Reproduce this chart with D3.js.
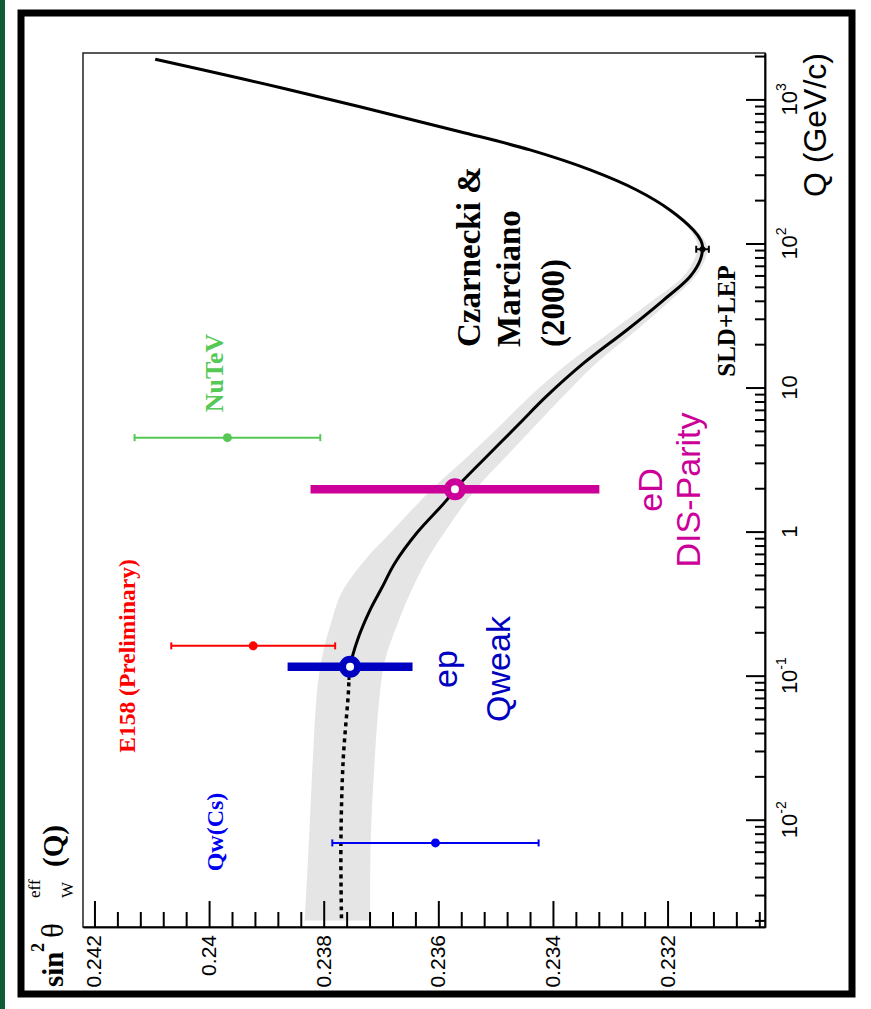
<!DOCTYPE html>
<html><head><meta charset="utf-8">
<script src="https://cdnjs.cloudflare.com/ajax/libs/d3/7.8.5/d3.min.js"></script>
<style>
html,body{margin:0;padding:0;background:#fff;}
svg{display:block;}
</style></head><body>
<svg id="chart" width="871" height="1009"></svg>
<script>
// ---------- data ----------
const curveQ = [0.00207, 0.00693, 0.026, 0.0754, 0.0933, 0.1154, 0.177, 0.286, 0.404, 0.603, 0.973, 1.66, 1.97, 3.31, 5.65, 8.64, 14.7, 25.1, 40.5, 58.8, 76.8, 95.0, 105, 124, 171, 235, 324, 446, 597, 1195, 1900];
const curveS = [0.23769, 0.23770, 0.23766, 0.23757, 0.23756, 0.23754, 0.23741, 0.23719, 0.23699, 0.23676, 0.23638, 0.23585, 0.23571, 0.23516, 0.23458, 0.23412, 0.23347, 0.23271, 0.23207, 0.23161, 0.23143, 0.23139, 0.23142, 0.23155, 0.23196, 0.23254, 0.23335, 0.23440, 0.23562, 0.23871, 0.24094];
const dottedBelowQ = 0.0933;

const bandQ     = [0.002, 0.0069, 0.026, 0.075, 0.128, 0.219, 0.375, 0.635, 0.978, 2.01, 3.31, 5.65, 8.64, 14.7, 25.1, 40.5, 58.8, 76.8, 95.0, 124, 171];
const bandUpper = [0.23833, 0.23826, 0.23819, 0.23812, 0.23804, 0.23789, 0.23769, 0.23728, 0.23684, 0.23609, 0.23549, 0.23488, 0.23441, 0.23374, 0.23295, 0.23225, 0.23173, 0.23154, 0.23147, 0.23161, 0.23196];
const bandLower = [0.23719, 0.23718, 0.23711, 0.23702, 0.23693, 0.23673, 0.23649, 0.23620, 0.23590, 0.23533, 0.23482, 0.23427, 0.23383, 0.23325, 0.23254, 0.23194, 0.23152, 0.23135, 0.23131, 0.23150, 0.23196];

const thinNames  = ["Qw(Cs)", "E158 (Preliminary)", "NuTeV", "SLD+LEP"];
const thinQ      = [0.0069, 0.161, 4.49, 91.19];
const thinS      = [0.23605, 0.23923, 0.23968, 0.23139];
const thinErr    = [0.0018, 0.00143, 0.00162, 0.00011];
const thinColors = ["#0000f0", "#ff0000", "#55c855", "#000000"];

const bigNames   = ["ep Qweak", "eD DIS-Parity"];
const bigQ       = [0.1154, 1.966];
const bigS       = [0.23754, 0.23571];
const bigErr     = [0.00109, 0.00252];
const bigColors  = ["#0000c0", "#cc0099"];

const sinTicks      = [0.242, 0.240, 0.238, 0.236, 0.234, 0.232];
const sinTickLabels = ["0.242", "0.24", "0.238", "0.236", "0.234", "0.232"];
const qTicks        = [0.01, 0.1, 1, 10, 100, 1000];
const qTickBase     = ["10", "10", "1", "10", "10", "10"];
const qTickExp      = ["-2", "-1", "", "", "2", "3"];

// ---------- setup ----------
const svg = d3.select("#chart");
const serif = "'Liberation Serif','Times New Roman',serif";
const sans = "'Liberation Sans',Arial,Helvetica,sans-serif";

const L = 83, R = 765, T = 53, B = 927;
const x = d3.scaleLinear().domain([0.2422, 0.2303]).range([L, R]);
const y = d3.scaleLog().domain([0.0018, 2100]).range([B, T]);

// page decoration
svg.append("rect").attr("x", 0).attr("y", 0).attr("width", 5).attr("height", 1009).attr("fill", "#0d5c36");
svg.append("rect").attr("x", 21).attr("y", 13).attr("width", 831).attr("height", 981)
  .attr("fill", "none").attr("stroke", "#000").attr("stroke-width", 7);

// band
const bandData = bandQ.map((q, i) => ({q, hi: bandUpper[i], lo: bandLower[i]}));
svg.append("path").datum(bandData)
  .attr("d", d3.area().y(d => y(d.q)).x0(d => x(d.hi)).x1(d => x(d.lo)).curve(d3.curveCatmullRom))
  .attr("fill", "#e5e5e5");

// curve
const curveData = curveQ.map((q, i) => ({q, s: curveS[i]}));
const line = d3.line().x(d => x(d.s)).y(d => y(d.q)).curve(d3.curveCatmullRom);
svg.append("path").datum(curveData.filter(d => d.q <= dottedBelowQ))
  .attr("d", line).attr("fill", "none").attr("stroke", "#000")
  .attr("stroke-width", 3.5).attr("stroke-dasharray", "4,4");
svg.append("path").datum(curveData.filter(d => d.q >= dottedBelowQ))
  .attr("d", line).attr("fill", "none").attr("stroke", "#000").attr("stroke-width", 3);

// thin points with error bars
thinQ.forEach((q, i) => {
  const g = svg.append("g").attr("stroke", thinColors[i]).attr("fill", thinColors[i]);
  const yy = y(q), x1 = x(thinS[i] + thinErr[i]), x2 = x(thinS[i] - thinErr[i]);
  g.append("line").attr("x1", x1).attr("x2", x2).attr("y1", yy).attr("y2", yy).attr("stroke-width", 2);
  [x1, x2].forEach(xx => g.append("line").attr("x1", xx).attr("x2", xx).attr("y1", yy - 3.5).attr("y2", yy + 3.5).attr("stroke-width", 2));
  g.append("circle").attr("cx", x(thinS[i])).attr("cy", yy).attr("r", i === 3 ? 3 : 4.5).attr("stroke", "none");
});

// big points with thick error bars
bigQ.forEach((q, i) => {
  const yy = y(q);
  svg.append("line").attr("x1", x(bigS[i] + bigErr[i])).attr("x2", x(bigS[i] - bigErr[i]))
    .attr("y1", yy).attr("y2", yy).attr("stroke", bigColors[i]).attr("stroke-width", 8.5);
  svg.append("circle").attr("cx", x(bigS[i])).attr("cy", yy).attr("r", 7.5)
    .attr("fill", "#fff").attr("stroke", bigColors[i]).attr("stroke-width", 7);
});

// frame
svg.append("rect").attr("x", L).attr("y", T).attr("width", R - L).attr("height", B - T)
  .attr("fill", "none").attr("stroke", "#222").attr("stroke-width", 1.5);

// sin^2 axis (bottom of picture)
const sinMinor = d3.range(0, 30).map(i => +(0.2304 + i * 0.0004).toFixed(4))
  .filter(v => v < 0.2421 && !sinTicks.some(t => Math.abs(t - v) < 1e-6));
const axS1 = svg.append("g").attr("transform", `translate(0,${B})`)
  .call(d3.axisBottom(x).tickValues(sinTicks).tickSize(-26).tickSizeOuter(0).tickFormat(""));
const axS2 = svg.append("g").attr("transform", `translate(0,${B})`)
  .call(d3.axisBottom(x).tickValues(sinMinor).tickSize(-15).tickSizeOuter(0).tickFormat(""));
[axS1, axS2].forEach(a => { a.selectAll("line").attr("stroke", "#000").attr("stroke-width", 2); a.select(".domain").attr("stroke", "#000").attr("stroke-width", 1.5); });

sinTicks.forEach((v, i) => {
  svg.append("text").attr("transform", `translate(${x(v) + 7},${B + 8}) rotate(-90)`)
    .attr("text-anchor", "end").attr("font-family", sans).attr("font-size", 21)
    .text(sinTickLabels[i]);
});

// Q axis (right of picture)
const qMinor = [];
[-3, -2, -1, 0, 1, 2, 3].forEach(k => d3.range(2, 10).forEach(m => {
  const v = m * Math.pow(10, k);
  if (v > 0.0018 && v < 2100) qMinor.push(v);
}));
const axQ1 = svg.append("g").attr("transform", `translate(${R},0)`)
  .call(d3.axisRight(y).tickValues(qTicks).tickSize(-19).tickSizeOuter(0).tickFormat(""));
const axQ2 = svg.append("g").attr("transform", `translate(${R},0)`)
  .call(d3.axisRight(y).tickValues(qMinor).tickSize(-10).tickSizeOuter(0).tickFormat(""));
[axQ1, axQ2].forEach(a => { a.selectAll("line").attr("stroke", "#000").attr("stroke-width", 2); a.select(".domain").attr("stroke", "#000").attr("stroke-width", 1.5); });

qTicks.forEach((v, i) => {
  const t = svg.append("text").attr("transform", `translate(797,${y(v)}) rotate(-90)`)
    .attr("text-anchor", "middle").attr("font-family", sans).attr("font-size", 22);
  t.append("tspan").text(qTickBase[i]);
  if (qTickExp[i]) t.append("tspan").attr("dy", -11).attr("font-size", 14).text(qTickExp[i]);
});

// axis titles
svg.append("text").attr("transform", `translate(826,${T}) rotate(-90)`)
  .attr("text-anchor", "end").attr("font-family", sans).attr("font-size", 32).text("Q (GeV/c)");

function rtext(X, Y, str, opts) {
  return svg.append("text").attr("transform", `translate(${X},${Y}) rotate(-90)`)
    .attr("text-anchor", opts.anchor || "start").attr("font-family", opts.font || serif)
    .attr("font-size", opts.size).attr("font-weight", opts.weight || "normal")
    .attr("fill", opts.color || "#000").text(str);
}
rtext(63, 987, "sin", {size: 29, weight: "bold"});
rtext(44, 952, "2", {size: 18, weight: "bold"});
rtext(63, 938, "θ", {size: 31});
rtext(40, 898, "eff", {size: 17});
rtext(73, 898, "W", {size: 17});
rtext(63, 867, "(Q)", {size: 29, weight: "bold"});

// annotations
rtext(480, 347, "Czarnecki &", {size: 33, weight: "bold"});
rtext(520, 347, "Marciano", {size: 33, weight: "bold"});
rtext(564, 347, "(2000)", {size: 33, weight: "bold"});
rtext(735, 321, thinNames[3], {size: 25, weight: "bold", anchor: "middle"});
rtext(223, 373, thinNames[2], {size: 26, weight: "bold", anchor: "middle", color: "#55c855"});
rtext(135, 656, thinNames[1], {size: 23.5, weight: "bold", anchor: "middle", color: "#ff0000"});
rtext(223, 832, thinNames[0], {size: 24, weight: "bold", anchor: "middle", color: "#0000f0"});
rtext(457, 669, bigNames[0].split(" ")[0], {size: 34, font: sans, anchor: "middle", color: "#0000c0"});
rtext(510, 669, bigNames[0].split(" ")[1], {size: 34, font: sans, anchor: "middle", color: "#0000c0"});
rtext(662, 490, bigNames[1].split(" ")[0], {size: 34, font: sans, anchor: "middle", color: "#cc0099"});
rtext(700, 490, bigNames[1].split(" ")[1], {size: 34, font: sans, anchor: "middle", color: "#cc0099"});
</script>
</body></html>
